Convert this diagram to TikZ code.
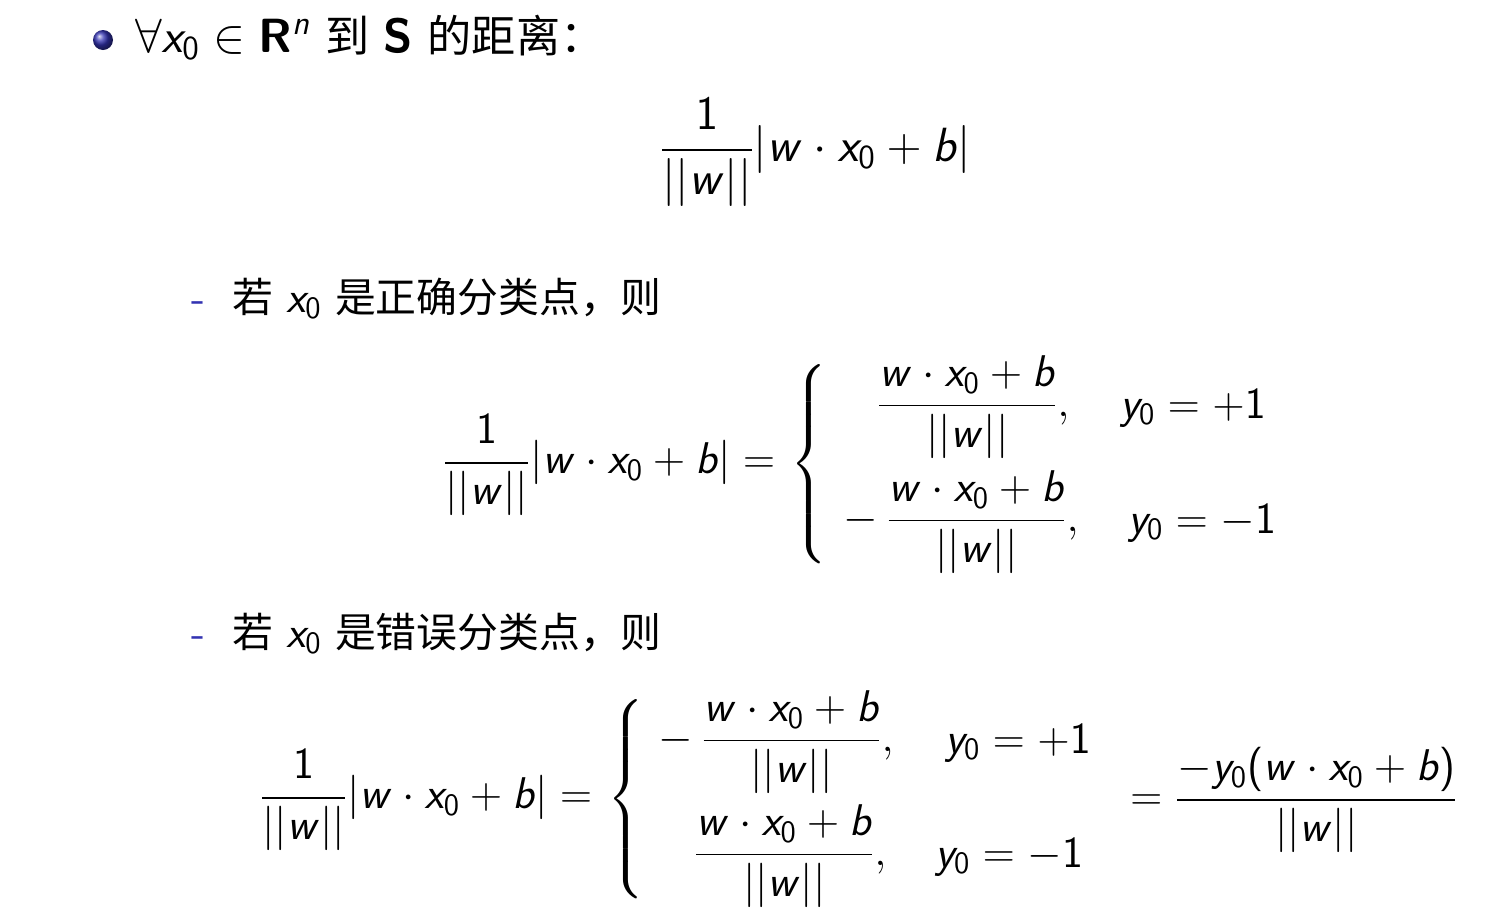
\RequirePackage{fix-cm}
\documentclass[tikz,border=0pt]{standalone}
\usepackage{amsmath}
\usepackage[no-math]{fontspec}
\newfontfamily\cjk[Scale=0.92]{Noto Sans CJK SC}
\DeclareSymbolFont{sflet}{OT1}{cmss}{m}{sl}
\SetSymbolFont{operators}{normal}{OT1}{cmss}{m}{n}
\SetMathAlphabet{\mathbf}{normal}{OT1}{cmss}{bx}{n}
\DeclareMathSymbol{w}{\mathalpha}{sflet}{`w}
\DeclareMathSymbol{x}{\mathalpha}{sflet}{`x}
\DeclareMathSymbol{y}{\mathalpha}{sflet}{`y}
\DeclareMathSymbol{b}{\mathalpha}{sflet}{`b}
\DeclareMathSymbol{n}{\mathalpha}{sflet}{`n}
\definecolor{struct}{rgb}{0.2,0.2,0.7}
\newcommand{\nw}{||w||}
\newcommand{\wxb}{w\cdot x_0+b}
\newcommand{\negsp}{-\mkern3.5mu}
\begin{document}
\begin{tikzpicture}[x=0.5pt,y=-0.5pt,
  every node/.style={inner sep=0pt,outer sep=0pt,font=\fontsize{22.2}{27}\selectfont},
  big/.style={font=\fontsize{24}{29}\selectfont},
  txt/.style={anchor=base west},
  dashmark/.style={anchor=base,text=struct},
  eq/.style={anchor=west}]
\useasboundingbox[fill=white] (0,0) rectangle (1500,922);
% bullet
\shade[ball color=struct] (103,40) circle (10);
\node[txt,big] (head) at (135,52) {$\forall x_0\in\mathbf{R}^n$ {\cjk 到} $\mathbf{S}$ {\cjk 的距离：}};
\node[eq,big] (f1) at (660,152) {$\displaystyle\frac{1}{\nw}|\wxb|$};
% case 1
\node[dashmark] (d1) at (198,312) {\sffamily -};
\node[txt] (t1) at (232,312) {{\cjk 若} $x_0$ {\cjk 是正确分类点，则}};
\node[eq] (f2l) at (443,465) {$\displaystyle\frac{1}{\nw}|\wxb|=$};
\node[eq] (f2b) at (790,466) {$\left\{\vrule height 46pt depth 46pt width 0pt\right.$};
\node[eq] (f2r1) at (877,407) {$\displaystyle\frac{\wxb}{\nw},$};
\node[txt] (f2c1) at (1120,418) {$y_0=+1$};
\node[eq] (f2r2) at (843,522) {$\displaystyle\negsp\frac{\wxb}{\nw},$};
\node[txt] (f2c2) at (1128,533) {$y_0=-1$};
% case 2
\node[dashmark] (d2) at (198,647) {\sffamily -};
\node[txt] (t2) at (232,647) {{\cjk 若} $x_0$ {\cjk 是错误分类点，则}};
\node[eq] (f3l) at (260,800) {$\displaystyle\frac{1}{\nw}|\wxb|=$};
\node[eq] (f3b) at (607,801) {$\left\{\vrule height 46pt depth 46pt width 0pt\right.$};
\node[eq] (f3r1) at (658,742) {$\displaystyle\negsp\frac{\wxb}{\nw},$};
\node[txt] (f3c1) at (945,753) {$y_0=+1$};
\node[eq] (f3r2) at (694,856) {$\displaystyle\frac{\wxb}{\nw},$};
\node[txt] (f3c2) at (935,867) {$y_0=-1$};
\node[eq] (f3e) at (1130,800) {$\displaystyle=\frac{-y_0(\wxb)}{\nw}$};
\end{tikzpicture}
\end{document}
